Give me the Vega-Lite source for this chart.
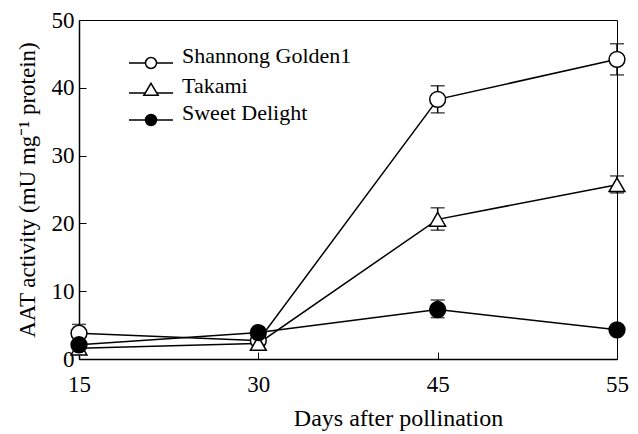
{
  "$schema": "https://vega.github.io/schema/vega-lite/v6.json",
  "width": 538,
  "height": 339,
  "autosize": {"type": "none"},
  "padding": {"left": 79, "top": 20, "right": 21, "bottom": 75},
  "background": "white",
  "config": {
    "font": "Liberation Serif",
    "view": {"stroke": "black", "strokeWidth": 1},
    "axis": {
      "labelFont": "Liberation Serif",
      "titleFont": "Liberation Serif",
      "labelFontSize": 23,
      "titleFontSize": 24,
      "titleFontWeight": "normal",
      "labelColor": "black",
      "titleColor": "black",
      "domainColor": "black",
      "tickColor": "black",
      "domainWidth": 1.5,
      "tickWidth": 1,
      "grid": false
    }
  },
  "data": {
    "values": [
      {"series": "Shannong Golden1", "day": 15, "value": 3.8, "lo": 2.5, "hi": 5.1},
      {"series": "Shannong Golden1", "day": 30, "value": 2.7, "lo": null, "hi": null},
      {"series": "Shannong Golden1", "day": 45, "value": 38.3, "lo": 36.3, "hi": 40.3},
      {"series": "Shannong Golden1", "day": 55, "value": 44.2, "lo": 41.9, "hi": 46.5},
      {"series": "Takami", "day": 15, "value": 1.6, "lo": null, "hi": null},
      {"series": "Takami", "day": 30, "value": 2.3, "lo": 1.4, "hi": 3.2},
      {"series": "Takami", "day": 45, "value": 20.6, "lo": 19.0, "hi": 22.3},
      {"series": "Takami", "day": 55, "value": 25.7, "lo": 24.5, "hi": 27.0},
      {"series": "Sweet Delight", "day": 15, "value": 2.1, "lo": null, "hi": null},
      {"series": "Sweet Delight", "day": 30, "value": 3.9, "lo": null, "hi": null},
      {"series": "Sweet Delight", "day": 45, "value": 7.3, "lo": 6.1, "hi": 8.7},
      {"series": "Sweet Delight", "day": 55, "value": 4.3, "lo": null, "hi": null}
    ]
  },
  "encoding": {
    "x": {
      "field": "day",
      "type": "ordinal",
      "scale": {"type": "point", "padding": 0},
      "axis": {
        "title": "Days after pollination",
        "labelAngle": 0,
        "tickSize": -7,
        "labelPadding": 21,
        "titlePadding": 10,
        "titleX": 319
      }
    }
  },
  "layer": [
    {
      "mark": {"type": "line", "color": "black", "strokeWidth": 1.5},
      "encoding": {
        "y": {
          "field": "value",
          "type": "quantitative",
          "title": "AAT activity (mU mg⁻¹ protein)",
          "scale": {"domain": [0, 50]},
          "axis": {
            "title": "AAT activity (mU mg⁻¹ protein)",
            "titleFontSize": 23,
            "values": [0, 10, 20, 30, 40, 50],
            "tickSize": -7,
            "labelPadding": 12,
            "titlePadding": 12
          }
        },
        "detail": {"field": "series"}
      }
    },
    {
      "transform": [{"filter": "datum.lo != null"}],
      "mark": {"type": "errorbar", "color": "black", "thickness": 1.5, "ticks": {"size": 14, "thickness": 1.5, "color": "black"}},
      "encoding": {
        "y": {"field": "lo", "type": "quantitative", "title": "AAT activity (mU mg⁻¹ protein)"},
        "y2": {"field": "hi"}
      }
    },
    {
      "mark": {"type": "point", "filled": true, "opacity": 1, "size": 250, "stroke": "black", "strokeWidth": 1.5},
      "encoding": {
        "y": {"field": "value", "type": "quantitative", "title": "AAT activity (mU mg⁻¹ protein)"},
        "shape": {
          "field": "series",
          "scale": {"domain": ["Shannong Golden1", "Takami", "Sweet Delight"], "range": ["circle", "triangle-up", "circle"]},
          "legend": null
        },
        "fill": {
          "field": "series",
          "scale": {"domain": ["Shannong Golden1", "Takami", "Sweet Delight"], "range": ["white", "white", "black"]},
          "legend": null
        }
      }
    },
    {
      "transform": [{"filter": "false"}],
      "mark": {"type": "point", "filled": true, "opacity": 1, "size": 484, "stroke": "black", "strokeWidth": 1.5},
      "encoding": {
        "y": {"field": "value", "type": "quantitative", "title": "AAT activity (mU mg⁻¹ protein)"},
        "shape": {
          "field": "series",
          "scale": {
            "domain": ["Shannong Golden1", "Takami", "Sweet Delight"],
            "range": [
              "M-2,0H-0.5M0.5,0H2M0.5,0A0.5,0.5 0 1,1 -0.5,0A0.5,0.5 0 1,1 0.5,0Z",
              "M-2,0H-0.52M0.52,0H2M0,-0.88L0.65,0.21L-0.65,0.21Z",
              "M-2,0H-0.5M0.5,0H2M0.5,0A0.5,0.5 0 1,1 -0.5,0A0.5,0.5 0 1,1 0.5,0Z"
            ]
          },
          "legend": {
            "title": null,
            "orient": "none",
            "legendX": 60,
            "legendY": 31,
            "padding": 0,
            "labelFont": "Liberation Serif",
            "labelFontSize": 22,
            "labelColor": "black",
            "labelBaseline": "alphabetic",
            "labelOffset": 19,
            "labelLimit": 400,
            "rowPadding": 3,
            "symbolSize": 484,
            "symbolStrokeWidth": 1.5,
            "symbolStrokeColor": "black",
            "symbolOpacity": 1,
            "encode": {"symbols": {"update": {"stroke": {"value": "black"}, "strokeWidth": {"value": 1.5}, "opacity": {"value": 1}}}}
          }
        },
        "fill": {
          "field": "series",
          "scale": {"domain": ["Shannong Golden1", "Takami", "Sweet Delight"], "range": ["white", "white", "black"]},
          "legend": {
            "title": null,
            "orient": "none",
            "legendX": 60,
            "legendY": 31,
            "padding": 0,
            "labelFont": "Liberation Serif",
            "labelFontSize": 22,
            "labelColor": "black",
            "labelBaseline": "alphabetic",
            "labelOffset": 19,
            "labelLimit": 400,
            "rowPadding": 3,
            "symbolSize": 484,
            "symbolStrokeWidth": 1.5,
            "symbolStrokeColor": "black",
            "symbolOpacity": 1,
            "encode": {"symbols": {"update": {"stroke": {"value": "black"}, "strokeWidth": {"value": 1.5}, "opacity": {"value": 1}}}}
          }
        }
      }
    }
  ],
  "resolve": {"scale": {"shape": "independent", "fill": "independent"}}
}
